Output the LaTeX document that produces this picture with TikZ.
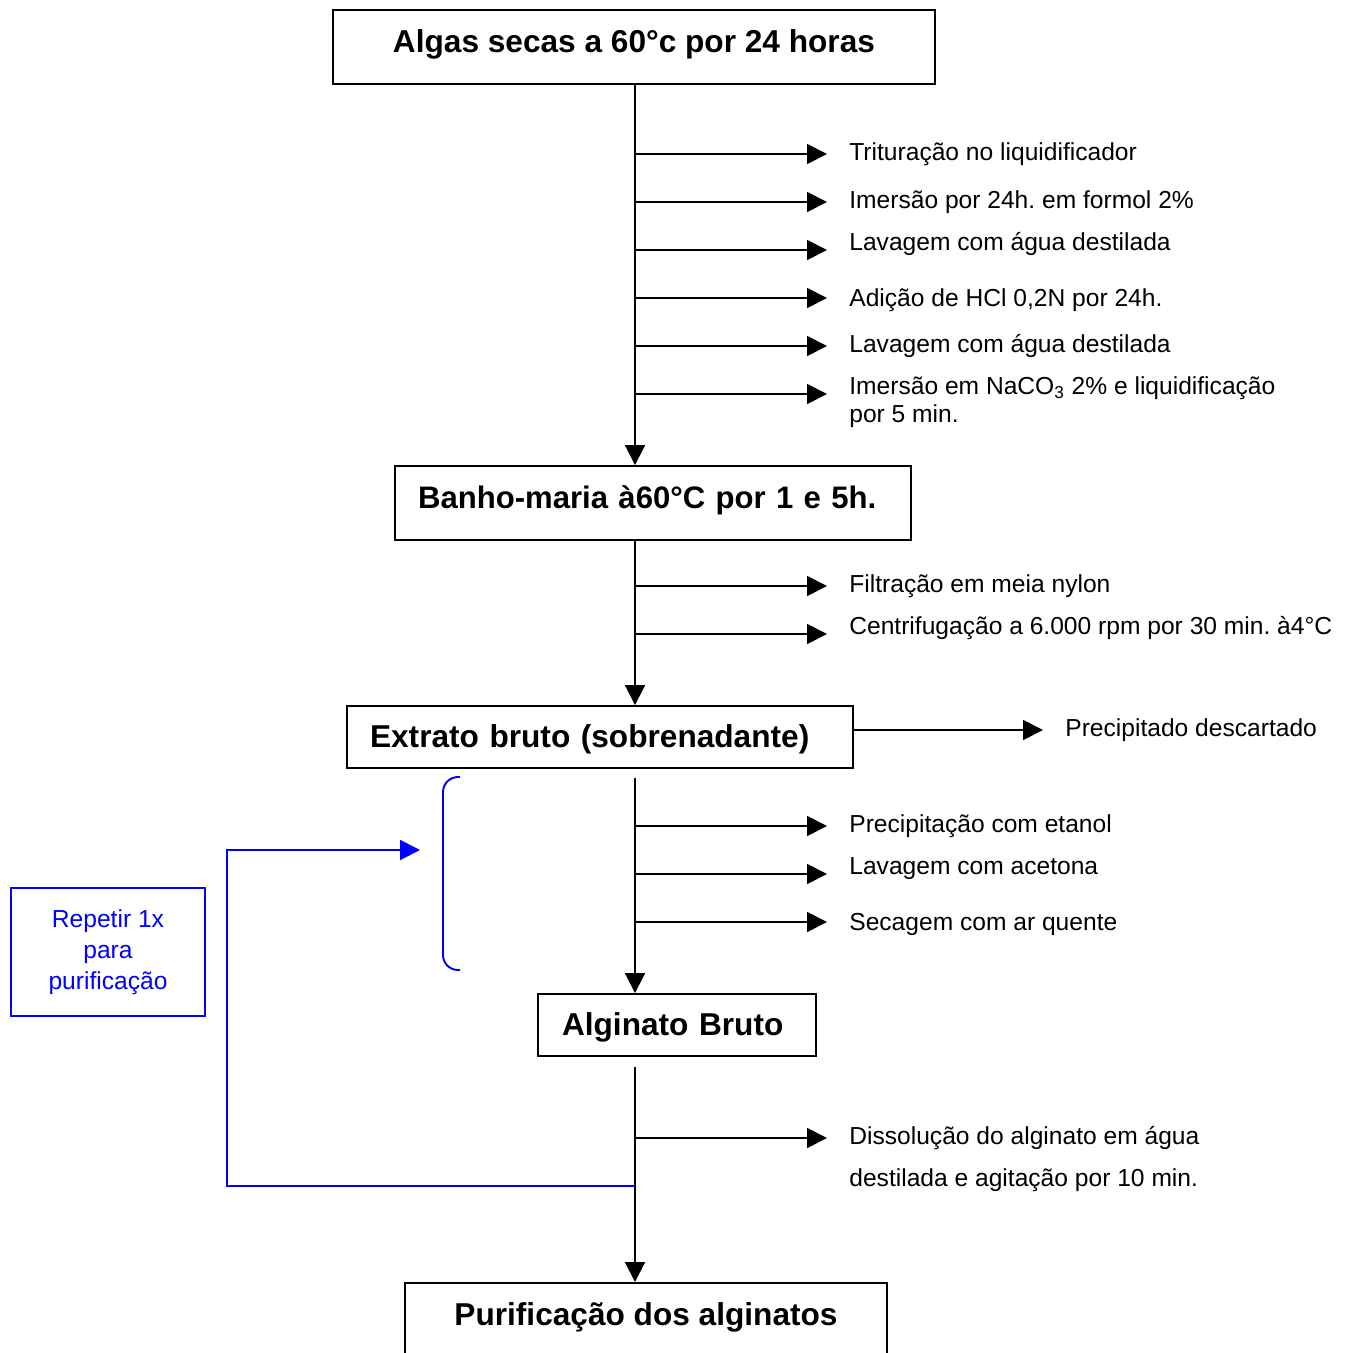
\documentclass[tikz,border=0pt]{standalone}
\usepackage{fontspec}
\setmainfont{Liberation Sans}
\usetikzlibrary{arrows.meta}
\frenchspacing

\tikzset{
  caixa/.style={draw, line width=1.1pt, font=\bfseries\fontsize{18}{22}\selectfont,
    text height=13pt, text depth=1pt, inner sep=0pt},
  passo/.style={anchor=west, font=\fontsize{14}{17}\selectfont,
    inner xsep=0.44cm, inner ysep=0pt, text height=10pt, text depth=0pt},
  passolongo/.style={anchor=west, align=left, inner xsep=0.44cm, inner ysep=0pt},
  seta/.style={line width=1.1pt, -{Triangle[length=0.4cm,width=0.4cm]}},
  azul/.style={draw=blue, text=blue, line width=1.1pt},
}

\begin{document}
\begin{tikzpicture}[x=0.02cm, y=-0.02cm]
   \useasboundingbox (0,0) rectangle (1353,1353);
   \coordinate (eixo) at (635,0);

   % etapas principais
   \node[caixa, minimum width=12.04cm, minimum height=1.48cm, text depth=7pt] (algas) at (634,47)
     {Algas secas a 60°c por 24 horas};
   \node[caixa, text width=9.4cm, align=left, inner xsep=0.46cm, minimum height=1.48cm, text depth=7pt,
     font=\bfseries\fontsize{17.7}{22}\selectfont] (banho) at (653,503)
     {Banho-maria à60°C por 1 e 5h.};
   \node[caixa, text width=9.2cm, align=left, inner xsep=0.46cm, minimum height=1.24cm] (extrato) at (600,737)
     {Extrato bruto (sobrenadante)};
   \node[caixa, text width=4.6cm, align=left, inner xsep=0.48cm, minimum height=1.24cm] (bruto) at (677,1025)
     {Alginato Bruto};
   \node[caixa, anchor=north, minimum width=9.64cm, minimum height=2.4cm, text depth=33pt] (purif) at (646,1282)
     {Purificação dos alginatos};

   \draw[seta] (algas.south -| eixo) -- (banho.north -| eixo);
   \draw[seta] (banho.south -| eixo) -- (extrato.north -| eixo);
   \draw[seta] ([yshift=-0.18cm]extrato.south -| eixo) -- (bruto.north -| eixo);
   \draw[seta] ([yshift=-0.2cm]bruto.south -| eixo) -- (purif.north -| eixo);

   % passos laterais
   \foreach \ya/\yl/\nome/\texto in {
       154/152/tritur/{Trituração no liquidificador},
       202/200/formol/{Imersão por 24h. em formol 2\%},
       250/242/lavum/{Lavagem com água destilada},
       298/298/acido/{Adição de HCl 0,2N por 24h.},
       346/344/lavdois/{Lavagem com água destilada},
       586/584/filtro/{Filtração em meia nylon},
       634/626/centri/{Centrifugação a 6.000 rpm por 30 min. à4°C},
       826/824/etanol/{Precipitação com etanol},
       874/866/acetona/{Lavagem com acetona},
       922/922/secagem/{Secagem com ar quente}}
   {
     \node[passo] (\nome) at (827,\yl) {\texto};
     \draw[seta] (eixo |- 0,\ya) -- (\nome.west |- 0,\ya);
   }

   \node[passolongo, font=\fontsize{14}{15.9}\selectfont] (nacoum) at (827,402)
     {Imersão em NaCO\textsubscript{3} 2\% e liquidificação\\por 5 min.};
   \draw[seta] (eixo |- 0,394) -- (nacoum.west |- 0,394);

   \node[passolongo, font=\fontsize{14}{23.8}\selectfont] (dissol) at (827,1159)
     {Dissolução do alginato em água\\destilada e agitação por 10 min.};
   \draw[seta] (eixo |- 0,1138) -- (dissol.west |- 0,1138);

   \node[passo] (precip) at (1043,728) {Precipitado descartado};
   \draw[seta] (extrato.east |- 0,730) -- (precip.west |- 0,730);

   % repeticao
   \node[azul, minimum width=3.88cm, minimum height=2.56cm, align=center,
     font=\fontsize{14}{17.6}\selectfont] (repetir) at (108,952) {Repetir 1x\\para\\purificação};
   \coordinate (volta) at (635,1186);
   \coordinate (canto) at (227,850);
   \coordinate (retorno) at (420,850);
   \draw[azul, seta] (volta) -| (canto) -- (retorno);
   \draw[azul, rounded corners=0.3cm] (460,777) -- (443,777) -- (443,970) -- (460,970);
\end{tikzpicture}
\end{document}
